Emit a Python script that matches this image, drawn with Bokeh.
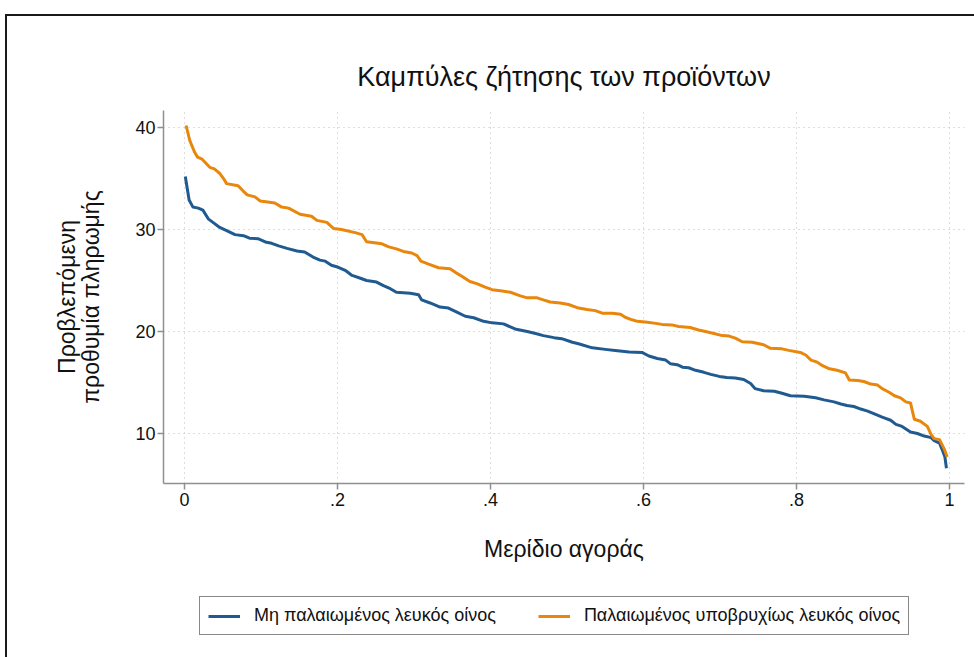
from bokeh.plotting import figure
from bokeh.models import FixedTicker, Legend, LegendItem, Range1d
from bokeh.layouts import column
from bokeh.embed import file_html
from bokeh.resources import INLINE

# ---- data ----
x_blue = [
    0.001, 0.006, 0.011, 0.018, 0.024, 0.031, 0.038, 0.046, 0.055, 0.066,
    0.077, 0.085, 0.096, 0.107, 0.114, 0.123, 0.134, 0.147, 0.157, 0.168,
    0.177, 0.184, 0.192, 0.201, 0.210, 0.219, 0.229, 0.238, 0.251, 0.260,
    0.269, 0.277, 0.295, 0.306, 0.310, 0.321, 0.334, 0.345, 0.356, 0.367,
    0.378, 0.391, 0.402, 0.417, 0.432, 0.448, 0.459, 0.469, 0.483, 0.493,
    0.507, 0.515, 0.533, 0.550, 0.563, 0.581, 0.598, 0.607, 0.618, 0.629,
    0.635, 0.644, 0.651, 0.659, 0.668, 0.679, 0.688, 0.699, 0.709, 0.720,
    0.731, 0.740, 0.746, 0.757, 0.771, 0.781, 0.792, 0.810, 0.825, 0.836,
    0.849, 0.858, 0.866, 0.875, 0.884, 0.893, 0.901, 0.912, 0.923, 0.930,
    0.938, 0.949, 0.958, 0.967, 0.976, 0.980, 0.987, 0.990, 0.994, 0.996,
]
y_blue = [
    35.2, 32.9, 32.2, 32.1, 31.9, 31.05, 30.65, 30.2, 29.9, 29.5,
    29.4, 29.15, 29.1, 28.75, 28.65, 28.4, 28.15, 27.9, 27.8, 27.3,
    27.0, 26.9, 26.5, 26.3, 26.0, 25.5, 25.25, 25.0, 24.85, 24.5,
    24.2, 23.85, 23.75, 23.6, 23.1, 22.8, 22.4, 22.3, 21.9, 21.5,
    21.35, 21.0, 20.85, 20.75, 20.25, 20.0, 19.8, 19.6, 19.4, 19.3,
    18.95, 18.8, 18.4, 18.25, 18.15, 18.0, 17.95, 17.6, 17.35, 17.2,
    16.85, 16.75, 16.5, 16.45, 16.2, 16.0, 15.8, 15.6, 15.5, 15.45,
    15.3, 14.9, 14.4, 14.2, 14.15, 13.95, 13.7, 13.65, 13.5, 13.3,
    13.1, 12.9, 12.75, 12.65, 12.4, 12.2, 11.95, 11.6, 11.3, 10.9,
    10.7, 10.15, 10.0, 9.75, 9.6, 9.3, 9.05, 8.5, 7.7, 6.6,
]
x_orange = [
    0.002, 0.007, 0.013, 0.017, 0.023, 0.033, 0.039, 0.046, 0.051, 0.055,
    0.070, 0.077, 0.082, 0.092, 0.099, 0.118, 0.127, 0.136, 0.151, 0.166,
    0.173, 0.186, 0.195, 0.205, 0.223, 0.232, 0.238, 0.258, 0.267, 0.277,
    0.286, 0.297, 0.304, 0.309, 0.319, 0.332, 0.347, 0.354, 0.363, 0.373,
    0.382, 0.393, 0.402, 0.413, 0.426, 0.439, 0.448, 0.461, 0.469, 0.478,
    0.491, 0.502, 0.515, 0.526, 0.537, 0.546, 0.559, 0.570, 0.576, 0.585,
    0.592, 0.605, 0.616, 0.624, 0.637, 0.646, 0.661, 0.672, 0.681, 0.692,
    0.703, 0.712, 0.720, 0.729, 0.742, 0.757, 0.766, 0.781, 0.790, 0.805,
    0.812, 0.819, 0.827, 0.834, 0.843, 0.853, 0.864, 0.869, 0.880, 0.888,
    0.897, 0.906, 0.912, 0.921, 0.928, 0.936, 0.943, 0.949, 0.954, 0.962,
    0.971, 0.976, 0.980, 0.987, 0.993, 0.997,
]
y_orange = [
    40.2, 38.7, 37.6, 37.1, 36.9, 36.1, 35.95, 35.5, 35.0, 34.5,
    34.3, 33.75, 33.4, 33.2, 32.8, 32.6, 32.2, 32.1, 31.5, 31.3,
    30.9, 30.7, 30.1, 30.0, 29.7, 29.5, 28.8, 28.6, 28.3, 28.1,
    27.85, 27.7, 27.45, 26.9, 26.6, 26.25, 26.15, 25.8, 25.4, 24.9,
    24.7, 24.35, 24.1, 24.0, 23.85, 23.5, 23.3, 23.3, 23.1, 22.9,
    22.8, 22.65, 22.3, 22.15, 22.05, 21.8, 21.8, 21.7, 21.4, 21.15,
    21.0, 20.9, 20.8, 20.7, 20.65, 20.5, 20.4, 20.15, 20.0, 19.8,
    19.6, 19.55, 19.35, 19.0, 18.95, 18.7, 18.35, 18.3, 18.15, 17.95,
    17.7, 17.2, 17.0, 16.65, 16.35, 16.2, 15.95, 15.25, 15.2, 15.1,
    14.85, 14.75, 14.4, 14.05, 13.7, 13.5, 13.1, 13.0, 11.4, 11.2,
    10.7, 9.9, 9.5, 9.4, 8.5, 7.7,
]
series_labels = ["Μη παλαιωμένος λευκός οίνος", "Παλαιωμένος υποβρυχίως λευκός οίνος"]
x_ticks = [0, 0.2, 0.4, 0.6, 0.8, 1]
x_tick_labels = ["0", ".2", ".4", ".6", ".8", "1"]
y_ticks = [10, 20, 30, 40]

FONT = "Liberation Sans"
BLUE = "#1f5a91"
ORANGE = "#e8870b"

# ---------------- main chart ----------------
p = figure(width=967, height=559, output_backend="svg", toolbar_location=None,
           x_range=(-0.0275, 1.0196), y_range=(5.1, 41.67),
           min_border_left=156, min_border_right=10,
           min_border_top=94, min_border_bottom=92)
p.outline_line_color = None
p.background_fill_color = "white"
p.border_fill_color = "white"

p.title.text = "Καμπύλες ζήτησης των προϊόντων"
p.title.align = "center"
p.title.text_font = FONT
p.title.text_font_size = "27px"
p.title.text_font_style = "normal"
p.title.text_color = "#111111"
p.title.standoff = 38

r1 = p.line(x_blue, y_blue, line_color=BLUE, line_width=3, line_join="round")
r2 = p.line(x_orange, y_orange, line_color=ORANGE, line_width=3, line_join="round")

for ax in (p.xaxis[0], p.yaxis[0]):
    ax.axis_line_color = "#8f8f8f"
    ax.axis_line_width = 1.5
    ax.major_tick_line_color = "#8f8f8f"
    ax.major_tick_line_width = 1.5
    ax.major_tick_out = 6
    ax.major_tick_in = 0
    ax.minor_tick_line_color = None
    ax.major_label_text_font = FONT
    ax.major_label_text_font_size = "18px"
    ax.major_label_text_color = "#111111"
    ax.axis_label_text_font = FONT
    ax.axis_label_text_font_size = "23px"
    ax.axis_label_text_font_style = "normal"
    ax.axis_label_text_color = "#111111"

p.xaxis.ticker = FixedTicker(ticks=x_ticks)
p.xaxis.major_label_overrides = {t: l for t, l in zip(x_ticks, x_tick_labels)}
p.xaxis.major_label_standoff = 3
p.xaxis.axis_label = "Μερίδιο αγοράς"
p.xaxis.axis_label_standoff = 27

p.yaxis.ticker = FixedTicker(ticks=y_ticks)
p.yaxis.major_label_orientation = "horizontal"
p.yaxis.major_label_standoff = 2
p.yaxis.axis_label = "Προβλεπόμενη\nπροθυμία πληρωμής"
p.yaxis.axis_label_text_line_height = 0.95
p.yaxis.axis_label_standoff = 28

for g in (p.xgrid[0], p.ygrid[0]):
    g.grid_line_color = "#bdbdbd"
    g.grid_line_dash = "1 4"
    g.grid_line_width = 1

# ---------------- legend strip ----------------
q = figure(width=967, height=82, output_backend="svg", toolbar_location=None,
           x_axis_type=None, y_axis_type=None,
           x_range=Range1d(0, 1), y_range=Range1d(0, 1),
           min_border=0, min_border_left=0, min_border_right=0,
           min_border_top=0, min_border_bottom=0)
q.outline_line_color = None
q.grid.visible = False
q.background_fill_color = "white"
q.border_fill_color = "white"
l1 = q.line(x_blue, y_blue, line_color=BLUE, line_width=3, visible=False)
l2 = q.line(x_orange, y_orange, line_color=ORANGE, line_width=3, visible=False)

legend = Legend(items=[LegendItem(label=series_labels[0], renderers=[l1]),
                       LegendItem(label=series_labels[1], renderers=[l2])],
                orientation="horizontal", location=(36, 22))
legend.label_text_font = FONT
legend.label_text_font_size = "18px"
legend.label_text_color = "#111111"
legend.glyph_width = 32
legend.glyph_height = 16
legend.label_standoff = 14
legend.spacing = 42
legend.padding = 8
legend.margin = 0
legend.border_line_color = "#111111"
legend.border_line_width = 1
legend.background_fill_color = "white"
legend.inactive_fill_alpha = 0.0
q.add_layout(legend, "center")

layout = column(p, q, spacing=0)
layout.styles = {"margin-left": "5px", "margin-top": "14px",
                 "border-left": "2px solid #1a1a1a", "border-top": "2px solid #1a1a1a"}

open("out.html", "w").write(file_html(layout, INLINE))
